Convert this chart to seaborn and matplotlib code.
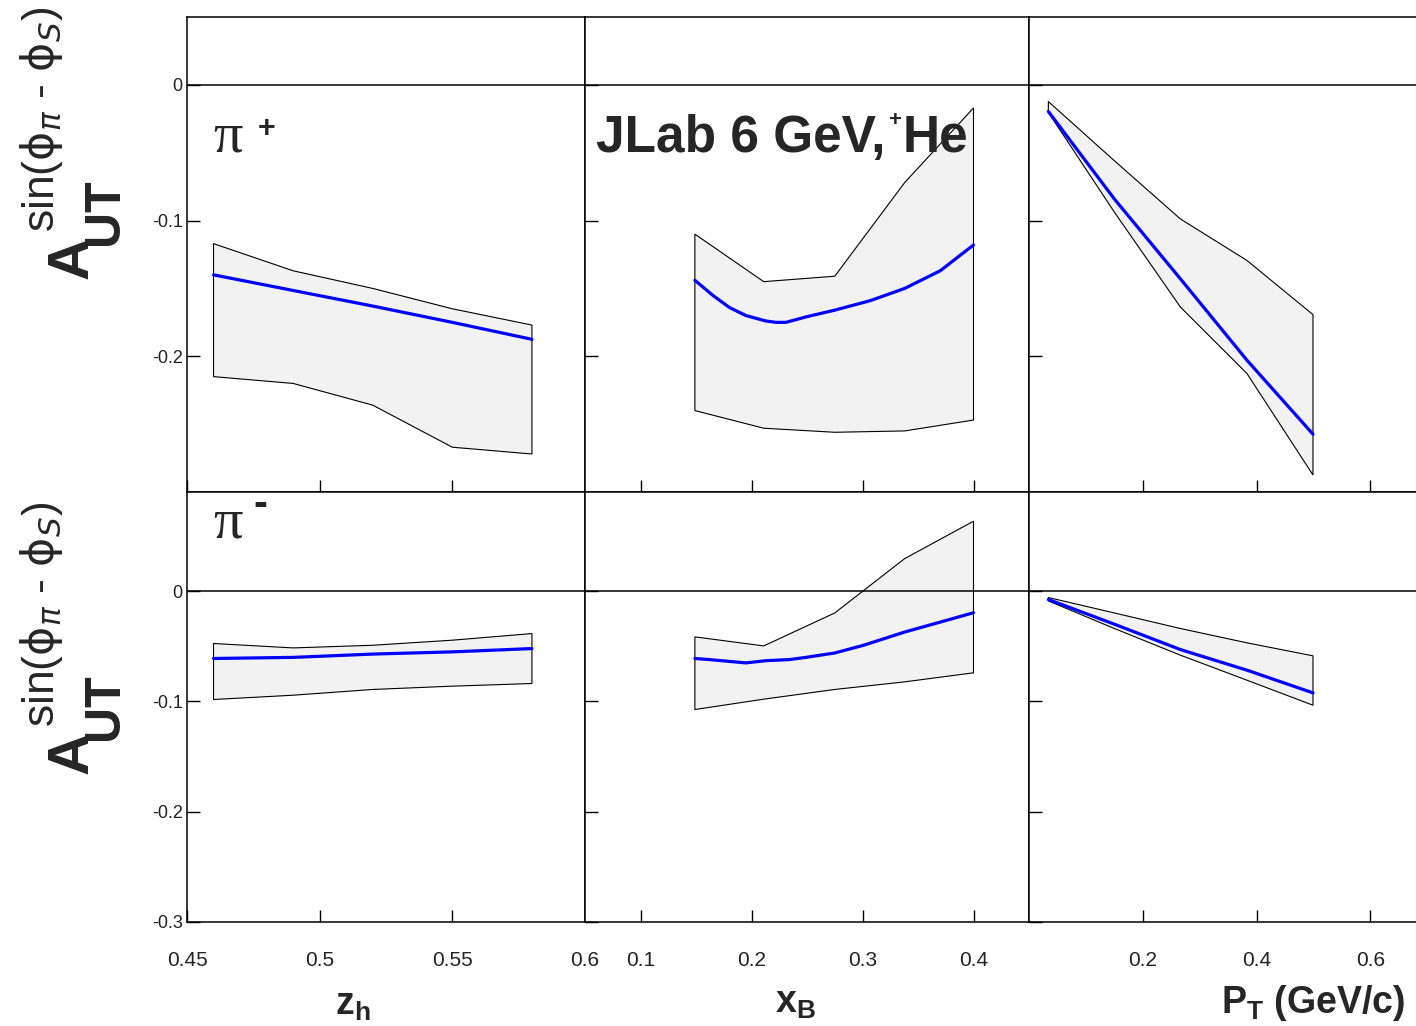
import numpy as np
import pandas as pd
import matplotlib
matplotlib.use("Agg")
import matplotlib.pyplot as plt
import seaborn as sns

# ---------------- data ----------------
# z_h panels
zh_band = [0.46, 0.49, 0.52, 0.55, 0.58]
zh_pip_central = [-0.140, -0.1515, -0.163, -0.175, -0.1875]
zh_pip_upper = [-0.117, -0.137, -0.150, -0.165, -0.177]
zh_pip_lower = [-0.215, -0.220, -0.236, -0.267, -0.272]
zh_pim_central = [-0.061, -0.060, -0.057, -0.055, -0.052]
zh_pim_upper = [-0.0474, -0.0514, -0.049, -0.0444, -0.0384]
zh_pim_lower = [-0.0982, -0.0943, -0.0891, -0.0861, -0.0837]

# x_B panels
xb_band = [0.149, 0.211, 0.275, 0.338, 0.400]
xb_pip_upper = [-0.110, -0.145, -0.141, -0.072, -0.017]
xb_pip_lower = [-0.240, -0.253, -0.256, -0.255, -0.247]
xb_pip_curve_x = [0.149, 0.165, 0.180, 0.195, 0.213, 0.222, 0.231, 0.249,
                  0.275, 0.307, 0.338, 0.370, 0.400]
xb_pip_central = [-0.144, -0.155, -0.164, -0.170, -0.174, -0.175, -0.175,
                  -0.171, -0.166, -0.159, -0.150, -0.137, -0.118]
xb_pim_upper = [-0.0414, -0.0496, -0.0197, 0.0296, 0.0635]
xb_pim_lower = [-0.1073, -0.0979, -0.0891, -0.0822, -0.0740]
xb_pim_curve_x = [0.149, 0.162, 0.195, 0.213, 0.234, 0.249, 0.275, 0.301,
                  0.338, 0.370, 0.400]
xb_pim_central = [-0.061, -0.062, -0.065, -0.063, -0.062, -0.060, -0.056,
                  -0.049, -0.037, -0.028, -0.0195]

# P_T panels
pt_band = [0.034, 0.150, 0.266, 0.383, 0.499]
pt_pip_central = [-0.0196, -0.0841, -0.1429, -0.2029, -0.2574]
pt_pip_upper = [-0.0123, -0.0559, -0.0988, -0.1294, -0.1693]
pt_pip_lower = [-0.0203, -0.0938, -0.1637, -0.2127, -0.2875]
pt_pim_central = [-0.0075, -0.0299, -0.0529, -0.0716, -0.0922]
pt_pim_upper = [-0.0057, -0.0197, -0.0338, -0.0468, -0.0586]
pt_pim_lower = [-0.0088, -0.0338, -0.0580, -0.0807, -0.1034]

# axes ticks / labels
x_limits = [(0.45, 0.60), (0.05, 0.45), (0.0, 0.68)]
x_ticks = [[0.45, 0.5, 0.55, 0.6], [0.1, 0.2, 0.3, 0.4], [0.2, 0.4, 0.6]]
x_ticklabels = [["0.45", "0.5", "0.55", "0.6"], ["0.1", "0.2", "0.3", "0.4"],
                ["0.2", "0.4", "0.6"]]
y_limits = [(-0.3, 0.05), (-0.3, 0.09)]
y_ticks = [[-0.2, -0.1, 0.0], [-0.3, -0.2, -0.1, 0.0]]
y_ticklabels = [["-0.2", "-0.1", "0"], ["-0.3", "-0.2", "-0.1", "0"]]

# ---------------- styling ----------------
sns.set_style("ticks")
plt.rcParams["font.family"] = ["Liberation Sans", "DejaVu Sans"]
plt.rcParams["mathtext.fontset"] = "dejavusans"
plt.rcParams["axes.unicode_minus"] = False

W, H = 1416, 1026
fig = plt.figure(figsize=(W / 100, H / 100), dpi=100)

col_px = [(187, 585), (585, 1029), (1029, 1416)]
row_px = [(17, 492), (492, 922)]


def rect(c, r):
    x0, x1 = col_px[c]
    y0, y1 = row_px[r]
    return [x0 / W, 1 - y1 / H, (x1 - x0) / W, (y1 - y0) / H]


panels = {
    (0, 0): (zh_band, zh_pip_upper, zh_pip_lower, zh_band, zh_pip_central),
    (1, 0): (xb_band, xb_pip_upper, xb_pip_lower, xb_pip_curve_x, xb_pip_central),
    (2, 0): (pt_band, pt_pip_upper, pt_pip_lower, pt_band, pt_pip_central),
    (0, 1): (zh_band, zh_pim_upper, zh_pim_lower, zh_band, zh_pim_central),
    (1, 1): (xb_band, xb_pim_upper, xb_pim_lower, xb_pim_curve_x, xb_pim_central),
    (2, 1): (pt_band, pt_pim_upper, pt_pim_lower, pt_band, pt_pim_central),
}

for (c, r), (bx, up, lo, cx, cy) in panels.items():
    ax = fig.add_axes(rect(c, r))
    ax.set_facecolor("white")
    poly_x = list(bx) + list(bx[::-1])
    poly_y = list(up) + list(lo[::-1])
    ax.fill(poly_x, poly_y, facecolor="#f2f2f2", edgecolor="black",
            linewidth=0.8, zorder=1)
    df = pd.DataFrame({"x": cx, "y": cy})
    sns.lineplot(data=df, x="x", y="y", ax=ax, color="#0000ff", linewidth=2.3,
                 estimator=None, sort=False, legend=False, zorder=3)
    ax.axhline(0.0, color="black", linewidth=1.1, zorder=4)
    ax.set_xlim(*x_limits[c])
    ax.set_ylim(*y_limits[r])
    ax.set_xticks(x_ticks[c])
    ax.set_yticks(y_ticks[r])
    if r == 1:
        ax.set_xticklabels(x_ticklabels[c], fontsize=15)
    else:
        ax.set_xticklabels([])
    if c == 0:
        ax.set_yticklabels(y_ticklabels[r], fontsize=13)
    else:
        ax.set_yticklabels([])
    ax.set_xlabel("")
    ax.set_ylabel("")
    ax.tick_params(axis="x", direction="in", length=9, width=1.0, pad=21,
                   colors="black", labelcolor="#222222")
    ax.tick_params(axis="y", direction="in", length=9, width=1.0, pad=3,
                   colors="black", labelcolor="#222222")
    for s in ax.spines.values():
        s.set_linewidth(1.1)
        s.set_color("black")
    if c == 2:
        ax.spines["right"].set_visible(False)


def fx(x):
    return x / W


def fy(y):
    return 1 - y / H


# y-axis titles (A_UT^{sin(phi_pi - phi_S)}) for both rows
for dy in (0, 495):
    fig.text(fx(88), fy(279 + dy), "A", fontsize=42, fontweight="bold",
             rotation=90, rotation_mode="anchor", ha="left", va="baseline")
    fig.text(fx(118), fy(245 + dy), "UT", fontsize=36, fontweight="bold",
             rotation=90, rotation_mode="anchor", ha="left", va="baseline")
    fig.text(fx(54), fy(232 + dy),
             r"sin($\mathrm{\phi}_{\pi}$ - $\mathrm{\phi}_{S}$)",
             fontsize=32, rotation=90, rotation_mode="anchor",
             ha="left", va="baseline")

# pion labels
fig.text(fx(213), fy(151), "π", family="Liberation Serif", fontsize=42,
         ha="left", va="baseline")
fig.text(fx(267), fy(137), "+", fontsize=22, fontweight="bold",
         ha="center", va="baseline")
fig.text(fx(213), fy(537), "π", family="Liberation Serif", fontsize=42,
         ha="left", va="baseline")
fig.text(fx(260), fy(516), "-", fontsize=30, fontweight="bold",
         ha="center", va="baseline")

# experiment label
fig.text(fx(596), fy(152), "JLab 6 GeV,", fontsize=37, fontweight="bold",
         ha="left", va="baseline")
fig.text(fx(895), fy(126), "+", fontsize=16, fontweight="bold",
         ha="center", va="baseline")
fig.text(fx(903), fy(152), "He", fontsize=37, fontweight="bold",
         ha="left", va="baseline")

# x-axis titles
fig.text(fx(353), fy(1015), r"z$_{\mathregular{h}}$", fontsize=27,
         fontweight="bold", ha="center", va="baseline")
fig.text(fx(795), fy(1013), r"x$_{\mathregular{B}}$", fontsize=27,
         fontweight="bold", ha="center", va="baseline")
fig.text(fx(1313), fy(1013), r"P$_{\mathregular{T}}$ (GeV/c)", fontsize=27,
         fontweight="bold", ha="center", va="baseline")

fig.savefig("out.png", dpi=100)
